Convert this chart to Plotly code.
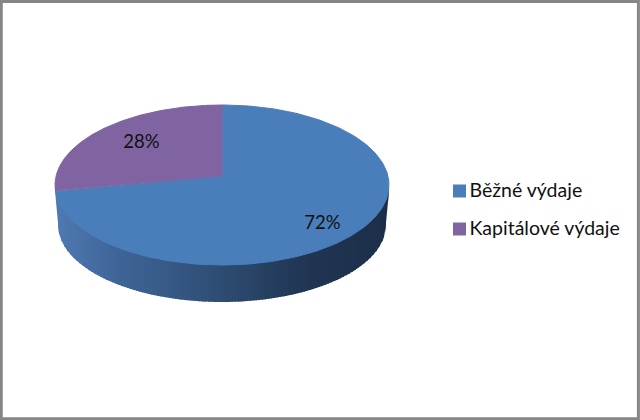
import numpy as np
import plotly.graph_objects as go

categories = ["Běžné výdaje", "Kapitálové výdaje"]
values = [72, 28]
colors = ["#4A7EBB", "#8064A2"]

# geometry of the tilted pie, in picture pixels
CX, CY, RX, RY = 222.0, 185.0, 167.0, 80.0     # upper rim
APEX_Y = 176.0                                 # centre of the slices
BCY, BRX, BRY = 225.0, 164.0, 77.0             # lower rim
LEGEND_MARK_X, LEGEND_TEXT_X = 459.5, 469.5
LEGEND_Y = [192.5, 230.5]
LABEL_X, LABEL_Y = [322.5, 141.5], [224.5, 143]


def rim_point(frac):
    """Point on the upper rim for a cumulative share, clockwise from the top."""
    a = 2 * np.pi * frac
    dx, dy = np.sin(a) * RX, -np.cos(a) * RY
    oy = APEX_Y - CY
    A = (dx / RX) ** 2 + (dy / RY) ** 2
    B = 2 * oy * dy / RY ** 2
    C = (oy / RY) ** 2 - 1
    t = (-B + np.sqrt(B * B - 4 * A * C)) / (2 * A)
    return CX + t * dx, APEX_Y + t * dy


def shade(x):
    stops = [55, 120, 222, 300, 389]
    r = np.interp(x, stops, [78, 62, 45, 32, 28])
    g = np.interp(x, stops, [122, 100, 76, 54, 46])
    b = np.interp(x, stops, [178, 150, 114, 84, 72])
    return f"rgb({r:.0f},{g:.0f},{b:.0f})"


fig = go.Figure()

# side wall, painted in narrow bands from right to left
edges = np.arange(CX - RX, CX + RX, 3.0)
for x0 in edges[::-1]:
    xs = np.linspace(x0, min(x0 + 4.0, CX + RX), 5)
    top = CY + RY * np.sqrt(np.clip(1 - ((xs - CX) / RX) ** 2, 0, 1)) - 2
    low = BCY + BRY * np.sqrt(np.clip(1 - ((xs - CX) / BRX) ** 2, 0, 1))
    left_edge = np.interp(xs, [CX - RX, CX - BRX], [190, BCY])
    right_edge = np.interp(xs, [CX + BRX, CX + RX], [BCY, 190])
    low = np.where(xs < CX - BRX, left_edge, low)
    low = np.where(xs > CX + BRX, right_edge, low)
    fig.add_trace(go.Scatter(
        x=np.r_[xs, xs[::-1]], y=np.r_[top, low[::-1]], mode="lines",
        line=dict(width=0), fill="toself", fillcolor=shade(x0 + 1.5),
        hoverinfo="skip", showlegend=False))

# upper surface, slices built from the shares
total = sum(values)
start = 0.0
for name, val, col in zip(categories, values, colors):
    fr = np.linspace(start, start + val / total, 240)
    pts = [rim_point(f) for f in fr]
    fig.add_trace(go.Scatter(
        x=[CX] + [p[0] for p in pts] + [CX], y=[APEX_Y] + [p[1] for p in pts] + [APEX_Y],
        mode="lines", line=dict(width=1, color=col), fill="toself", fillcolor=col, name=name,
        hoverinfo="skip", showlegend=False))
    start += val / total

# percentage labels
fig.add_trace(go.Scatter(
    x=LABEL_X, y=LABEL_Y, mode="text",
    text=[f"{v}%" for v in values], textposition="middle center",
    textfont=dict(family="Lato", size=18.5, color="#111111"),
    hoverinfo="skip", showlegend=False))

# legend keys and names
for name, col, y in zip(categories, colors, LEGEND_Y):
    fig.add_trace(go.Scatter(
        x=[LEGEND_MARK_X], y=[y - 1.5], mode="markers", name=name,
        marker=dict(symbol="square", size=13, color=col),
        hoverinfo="skip", showlegend=False))
    fig.add_trace(go.Scatter(
        x=[LEGEND_TEXT_X], y=[y], mode="text", text=[name], textposition="middle right",
        textfont=dict(family="Lato", size=19.5, color="#111111"),
        hoverinfo="skip", showlegend=False))

fig.update_layout(
    width=640, height=420, margin=dict(l=0, r=0, t=0, b=0),
    paper_bgcolor="white", plot_bgcolor="white", showlegend=False,
    xaxis=dict(range=[0, 640], visible=False, fixedrange=True),
    yaxis=dict(range=[420, 0], visible=False, fixedrange=True),
    shapes=[dict(type="rect", xref="paper", yref="paper", x0=0.002, y0=0.003,
                 x1=0.9975, y1=0.9965, line=dict(color="#868686", width=3),
                 fillcolor="rgba(0,0,0,0)")],
)
fig.write_html("out.html", config=dict(displayModeBar=False),
               post_script="document.body.style.margin='0';document.body.style.overflow='hidden';")
